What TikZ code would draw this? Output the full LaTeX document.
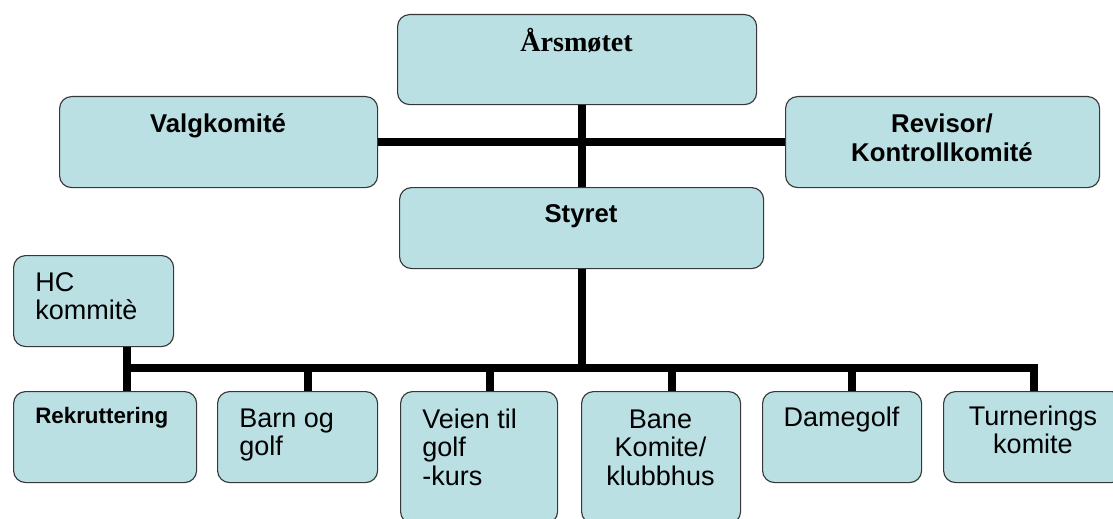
\documentclass[tikz,border=0pt]{standalone}
\usepackage{fontspec}
\setmainfont{Liberation Sans}
\newfontfamily\timesfont{Liberation Serif}

\definecolor{boxfill}{RGB}{186,224,228}
\definecolor{boxline}{RGB}{55,55,55}
\newcommand{\ctext}[1]{\begin{tabular}[t]{@{}c@{}}#1\end{tabular}}
\newcommand{\ltext}[1]{\begin{tabular}[t]{@{}l@{}}#1\end{tabular}}

\begin{document}
\begin{tikzpicture}[x=0.025cm,y=-0.025cm,
        box/.style={draw=boxline,line width=0.8pt,fill=boxfill,rounded corners=0.3cm,anchor=north west,inner sep=0pt},
        conn/.style={line width=5.7pt},
        lbl/.style={inner sep=0pt,anchor=base},
        bfont/.style={font=\bfseries\fontsize{18.3}{20.6}\selectfont},
        rfont/.style={font=\fontsize{19.2}{20.6}\selectfont}]
        \useasboundingbox (0,0) rectangle (1113,519);
        % top level
        \node[box,minimum width=8.975cm,minimum height=2.25cm] (ars) at (397,14) {};
        \node[box,minimum width=7.95cm,minimum height=2.275cm] (valg) at (59,96) {};
        \node[box,minimum width=7.85cm,minimum height=2.275cm] (rev) at (785,96) {};
        \node[box,minimum width=9.1cm,minimum height=2.025cm] (styret) at (399,187) {};
        \node[box,minimum width=4cm,minimum height=2.275cm] (hc) at (13,255) {};
        % committees
        \node[box,minimum width=4.575cm,minimum height=2.275cm] (rek) at (13,391) {};
        \node[box,minimum width=4cm,minimum height=2.275cm] (barn) at (217,391) {};
        \node[box,minimum width=3.925cm,minimum height=3.3cm] (veien) at (400,391) {};
        \node[box,minimum width=3.975cm,minimum height=3.3cm] (bane) at (581,391) {};
        \node[box,minimum width=3.975cm,minimum height=2.275cm] (dame) at (762,391) {};
        \node[box,minimum width=4.5cm,minimum height=2.275cm] (turn) at (943,391) {};
        % texts
        \node[lbl,font=\timesfont\bfseries\fontsize{20}{22}\selectfont] (ars-t) at (576.5,52) {Årsmøtet};
        \node[lbl,bfont] (valg-t) at (218,133) {Valgkomité};
        \node[lbl,bfont] (rev-t) at (942,133) {\ctext{Revisor/\\Kontrollkomité}};
        \node[lbl,bfont] (styret-t) at (581,222) {Styret};
        \node[lbl,rfont,anchor=base west] (hc-t) at (35,291) {\ltext{HC\\kommitè}};
        \node[lbl,anchor=base west,font=\bfseries\fontsize{15.9}{18}\selectfont] (rek-t) at (35,423) {Rekruttering};
        \node[lbl,rfont,anchor=base west] (barn-t) at (239,427) {\ltext{Barn og\\golf}};
        \node[lbl,rfont,anchor=base west] (veien-t) at (422,428) {\ltext{Veien til\\golf\\-kurs}};
        \node[lbl,rfont] (bane-t) at (660.5,428) {\ctext{Bane\\Komite/\\klubbhus}};
        \node[lbl,rfont] (dame-t) at (841.5,426) {Damegolf};
        \node[lbl,rfont] (turn-t) at (1033,425) {\ctext{Turnerings\\komite}};
        % connectors
        \coordinate (hub) at (582,142);
        \coordinate (busL) at (127,368);
        \coordinate (busM) at (582,368);
        \coordinate (busR) at (1034,368);
        \coordinate (dBarn) at (308,368);
        \coordinate (dVeien) at (490,368);
        \coordinate (dBane) at (672,368);
        \coordinate (dDame) at (852,368);
        \draw[conn] (ars.south -| hub) -- (styret.north -| hub);
        \draw[conn] (valg.east) -- (rev.west);
        \draw[conn] (styret.south -| busM) -- (busM);
        \draw[conn] (hc.south -| busL) -- (rek.north -| busL);
        \draw[conn] (busL) -- (busR) -- (busR |- turn.north);
        \draw[conn] (dBarn) -- (dBarn |- barn.north);
        \draw[conn] (dVeien) -- (dVeien |- veien.north);
        \draw[conn] (dBane) -- (dBane |- bane.north);
        \draw[conn] (dDame) -- (dDame |- dame.north);
\end{tikzpicture}
\end{document}
